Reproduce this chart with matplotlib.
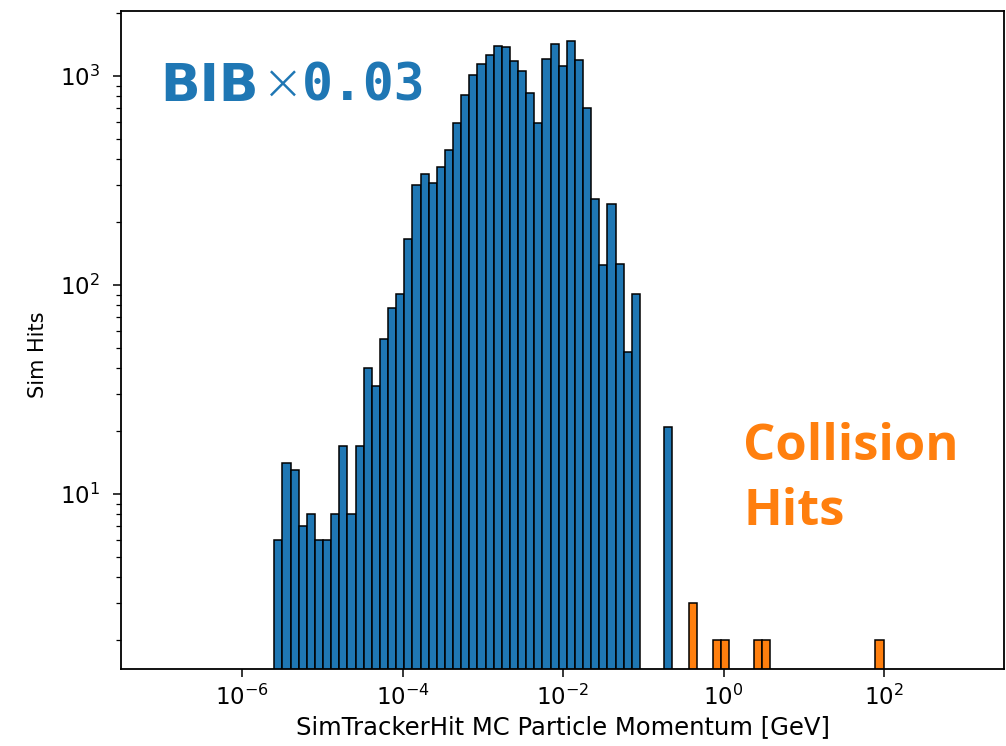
import numpy as np
import matplotlib
matplotlib.use("Agg")
import matplotlib.pyplot as plt

# Log10 momentum range covered by the shared histogram binning
log_p_min = -5.598
log_p_max = 1.995
n_bins = 75

# Beam-induced background hits per bin (scaled by 0.03)
bib_counts = [
    6, 14, 13, 7, 8, 6, 6, 8, 17, 8, 17,
    40, 33, 55, 78, 91, 166, 300, 340, 309, 368, 444, 594,
    814, 1011, 1141, 1260, 1392, 1380, 1180, 1057, 826, 598,
    1210, 1422, 1113, 1476, 1193, 705, 257, 124, 245, 126,
    48, 91, 0, 0, 0, 21,
] + [0] * 26

# Collision hits per bin
collision_counts = [0] * 51 + [3, 0, 0, 2, 2, 0, 0, 0, 2, 2] + [0] * 13 + [2]

edges = np.logspace(log_p_min, log_p_max, n_bins + 1)
centers = np.sqrt(edges[:-1] * edges[1:])

fig = plt.figure(figsize=(10.06, 7.46), dpi=100)
ax = fig.add_axes([121 / 1006, 1 - 669 / 746, 883 / 1006, 658 / 746])

ax.hist(centers, bins=edges, weights=bib_counts, color="#1f77b4",
        edgecolor="black", linewidth=1.1)
ax.hist(centers, bins=edges, weights=collision_counts, color="#ff7f0e",
        edgecolor="black", linewidth=1.1)

ax.set_xscale("log")
ax.set_yscale("log")
ax.set_xlim(10 ** -7.508, 10 ** 3.495)
ax.set_ylim(10 ** 0.1627, 10 ** 3.311)

ax.set_xticks([1e-6, 1e-4, 1e-2, 1e0, 1e2])
ax.xaxis.set_minor_locator(matplotlib.ticker.NullLocator())

for s in ax.spines.values():
    s.set_linewidth(1.3)
ax.tick_params(which="major", length=6, width=1.1, labelsize=16.5, pad=5)
ax.tick_params(which="major", axis="y", pad=9)
ax.tick_params(which="minor", length=3.5, width=0.9)

ax.set_xlabel("SimTrackerHit MC Particle Momentum [GeV]", fontsize=17.5, labelpad=4)
ax.set_ylabel("Sim Hits", fontsize=15)
ax.yaxis.set_label_coords(-0.083, 0.477)


def px(x, y):
    return x / 1006, 1 - y / 746


# "BIB x 0.03" scale annotation
fig.text(*px(160, 100.7), "BIB", color="#1f77b4", fontsize=37.5,
         fontweight="bold", family="DejaVu Sans", va="baseline", ha="left")
fig.text(*px(283, 85), "\u00d7", color="#1f77b4", fontsize=36,
         fontweight="light", family="DejaVu Sans", va="center", ha="center")
fig.text(*px(302, 100.7), "0.03", color="#1f77b4", fontsize=37,
         fontweight="bold", family="DejaVu Sans Mono", va="baseline", ha="left")

# Collision hits annotation
fig.text(*px(743, 460), "Collision", color="#ff7f0e", fontsize=36.5,
         fontweight="bold", family="Open Sans", va="baseline", ha="left")
fig.text(*px(743, 525), "Hits", color="#ff7f0e", fontsize=36.5,
         fontweight="bold", family="Open Sans", va="baseline", ha="left")

fig.savefig("out.png", dpi=100)
